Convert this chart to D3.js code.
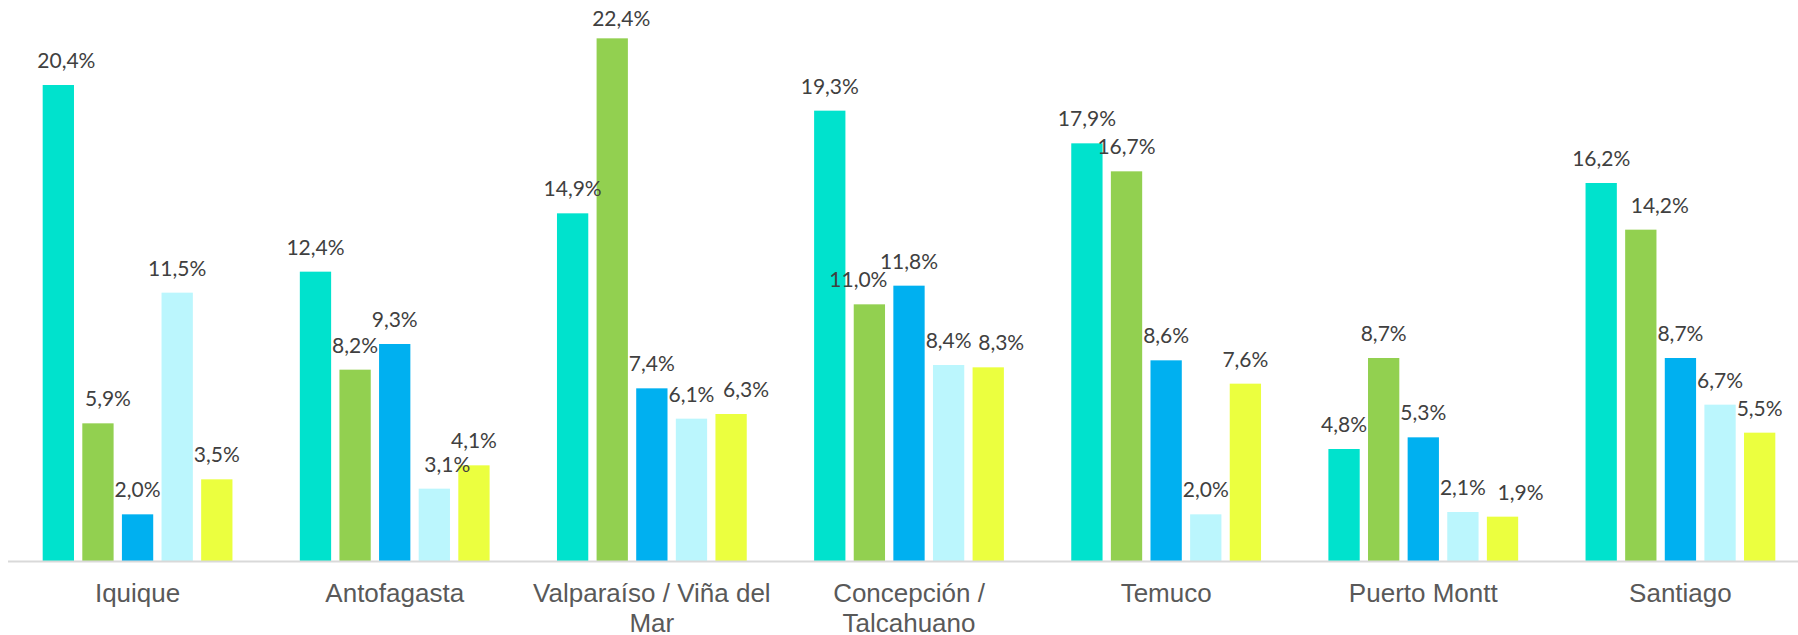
<!DOCTYPE html>
<html>
<head>
<meta charset="utf-8">
<script src="https://cdn.jsdelivr.net/npm/d3@7"></script>
<style>
  body { margin: 0; background: #ffffff; }
  svg { display: block; }
</style>
</head>
<body>
<script>
// categories and series (values in %)
var cities = ["Iquique", "Antofagasta", "Valparaíso / Viña del Mar", "Concepción / Talcahuano", "Temuco", "Puerto Montt", "Santiago"];
var seriesNames = ["Serie 1", "Serie 2", "Serie 3", "Serie 4", "Serie 5"];
var serie1 = [20.4, 12.4, 14.9, 19.3, 17.9, 4.8, 16.2];
var serie2 = [5.9, 8.2, 22.4, 11.0, 16.7, 8.7, 14.2];
var serie3 = [2.0, 9.3, 7.4, 11.8, 8.6, 5.3, 8.7];
var serie4 = [11.5, 3.1, 6.1, 8.4, 2.0, 2.1, 6.7];
var serie5 = [3.5, 4.1, 6.3, 8.3, 7.6, 1.9, 5.5];

var colors = ["#00e2cd", "#92d050", "#00b0f0", "#bbf6fd", "#ebff3f"];

var svgWidth = 1798;
var svgHeight = 635;
var baseY = 561;

var allSeries = [serie1, serie2, serie3, serie4, serie5];

// one row per city
var rows = cities.map(function (c, i) {
  return {
    city: c,
    values: seriesNames.map(function (s, j) {
      return { city: c, serie: s, value: allSeries[j][i] };
    })
  };
});

var locale = d3.formatLocale({ decimal: ",", thousands: ".", grouping: [3], currency: ["$", ""] });
var fmt = locale.format(".1f");

var svg = d3.select("body")
  .append("svg")
  .attr("width", svgWidth)
  .attr("height", svgHeight);

var x0 = d3.scaleBand()
  .domain(cities)
  .range([9, 1809])
  .paddingInner(0.262)
  .paddingOuter(0.131);

var x1 = d3.scaleBand()
  .domain(seriesNames)
  .range([0, x0.bandwidth()])
  .paddingInner(0.21);

var y = d3.scaleLinear()
  .domain([0, 24])
  .range([baseY, 1]);

var color = d3.scaleOrdinal()
  .domain(seriesNames)
  .range(colors);

var groups = svg.append("g")
  .attr("class", "groups")
  .selectAll("g")
  .data(rows)
  .enter()
  .append("g")
  .attr("transform", function (d) {
    return "translate(" + x0(d.city) + ",0)";
  });

groups.selectAll("rect")
  .data(function (d) { return d.values; })
  .enter()
  .append("rect")
  .attr("x", function (d) { return x1(d.serie); })
  .attr("y", function (d) { return y(d.value); })
  .attr("width", x1.bandwidth())
  .attr("height", function (d) { return y(0) - y(d.value); })
  .attr("fill", function (d) { return color(d.serie); });

// labels that were moved by hand in the original so they don't collide
var labelNudge = {
  "Iquique|Serie 1": [8, 0],
  "Iquique|Serie 2": [10, 0],
  "Antofagasta|Serie 4": [13, 0],
  "Valparaíso / Viña del Mar|Serie 2": [9, 5],
  "Valparaíso / Viña del Mar|Serie 5": [15, 0],
  "Concepción / Talcahuano|Serie 2": [-11, 0],
  "Concepción / Talcahuano|Serie 5": [13, 0],
  "Puerto Montt|Serie 5": [18, 0],
  "Santiago|Serie 2": [19, 0]
};

function nudge(d, k) {
  var n = labelNudge[d.city + "|" + d.serie];
  return n ? n[k] : 0;
}

// data labels
groups.selectAll("text")
  .data(function (d) { return d.values; })
  .enter()
  .append("text")
  .attr("x", function (d) { return x1(d.serie) + x1.bandwidth() / 2 + nudge(d, 0); })
  .attr("y", function (d) { return y(d.value) - 17 + nudge(d, 1); })
  .attr("text-anchor", "middle")
  .style("font-family", "Lato, 'Open Sans', sans-serif")
  .style("font-size", "21px")
  .style("fill", "#404040")
  .text(function (d) { return fmt(d.value) + "%"; });

// x axis
var xAxis = svg.append("g")
  .attr("transform", "translate(0," + baseY + ")")
  .call(d3.axisBottom(x0).tickSize(0).tickPadding(0));

xAxis.select(".domain").remove();

svg.append("line")
  .attr("x1", 8)
  .attr("x2", svgWidth)
  .attr("y1", baseY + 0.5)
  .attr("y2", baseY + 0.5)
  .attr("stroke", "#d9d9d9")
  .attr("stroke-width", 2);

xAxis.selectAll("text")
  .attr("y", 41)
  .attr("dy", null)
  .style("font-family", "'Liberation Sans', Arial, sans-serif")
  .style("font-size", "26px")
  .style("fill", "#595959")
  .call(wrap, x0.step() - 4);

function wrap(texts, width) {
  texts.each(function () {
    var text = d3.select(this);
    var words = text.text().split(/\s+/);
    var line = [];
    var lineNo = 0;
    var yy = text.attr("y");
    var tspan = text.text(null).append("tspan").attr("x", 0).attr("y", yy);
    words.forEach(function (w) {
      line.push(w);
      tspan.text(line.join(" "));
      if (tspan.node().getComputedTextLength() > width && line.length > 1) {
        line.pop();
        tspan.text(line.join(" "));
        line = [w];
        lineNo++;
        tspan = text.append("tspan")
          .attr("x", 0)
          .attr("y", +yy + lineNo * 30)
          .text(w);
      }
    });
  });
}
</script>
</body>
</html>
